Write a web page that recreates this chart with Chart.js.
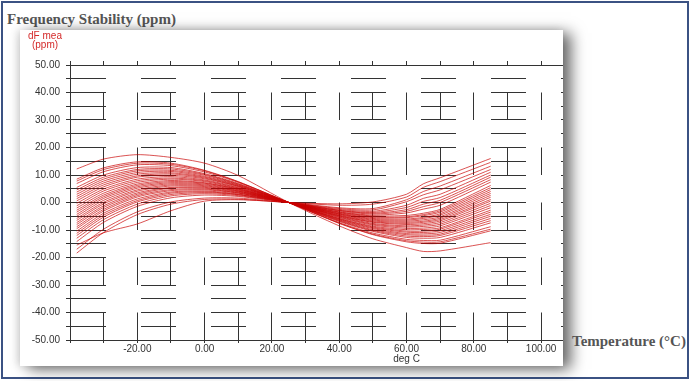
<!DOCTYPE html>
<html>
<head>
<meta charset="utf-8">
<title>Frequency Stability</title>
<script src="https://cdn.jsdelivr.net/npm/chart.js@4.4.1/dist/chart.umd.min.js"></script>
<style>
  body { margin: 0; background: #fff; }
  #page { position: relative; width: 691px; height: 381px; overflow: hidden; }
  #frame { position: absolute; left: 1px; top: 1px; width: 684px; height: 374px; border: 2px solid #3b5283; }
  .caption { position: absolute; font-family: "Liberation Serif", "Times New Roman", serif; font-weight: bold; font-size: 15px; line-height: 15px; color: #555; white-space: nowrap; }
  #ytitle { left: 7px; top: 12px; }
  #xtitle { left: 572px; top: 334px; }
  #panel { position: absolute; left: 20px; top: 30px; width: 543px; height: 336px; background: #fff;
           box-shadow: 8px 3px 14px rgba(0,0,0,0.6), -3px 0 8px rgba(0,0,0,0.12); }
  #panel canvas { display: block; }
</style>
</head>
<body>
<div id="page">
  <div id="frame"></div>
  <div class="caption" id="ytitle">Frequency Stability (ppm)</div>
  <div id="panel"><canvas id="chart" width="543" height="336"></canvas></div>
  <div class="caption" id="xtitle">Temperature (°C)</div>
</div>
<script>
// temperature points (deg C)
const temps = [-38, -30, -20, -10, 0, 10, 25, 40, 50, 60, 65, 70, 85];

// dF per unit (ppm)
const unit01 = [12.2, 15.8, 17.4, 16.4, 14.3, 9.8, 0, -8.5, -13.2, -16.4, -17.8, -17.6, -14.6];
const unit02 = [8.5, 12.6, 14.8, 14.3, 11.7, 7.6, 0, -7.6, -11.7, -14.3, -14.9, -14.8, -10.3];
const unit03 = [7.8, 12.0, 14.3, 13.9, 11.5, 7.5, 0, -7.5, -11.5, -13.9, -14.4, -14.3, -9.7];
const unit04 = [6.9, 11.2, 13.7, 13.4, 11.1, 7.3, 0, -7.3, -11.1, -13.4, -13.8, -13.7, -8.8];
const unit05 = [5.5, 10.0, 12.7, 12.7, 10.5, 6.9, 0, -6.9, -10.5, -12.7, -13.0, -12.7, -7.4];
const unit06 = [4.6, 9.2, 12.0, 12.2, 10.2, 6.7, 0, -6.7, -10.2, -12.2, -12.4, -12.0, -6.6];
const unit07 = [3.8, 8.5, 11.5, 11.7, 9.9, 6.5, 0, -6.5, -9.9, -11.7, -11.9, -11.5, -5.8];
const unit08 = [3.0, 7.8, 10.9, 11.3, 9.5, 6.3, 0, -6.3, -9.5, -11.3, -11.4, -10.9, -5.0];
const unit09 = [2.2, 7.1, 10.3, 10.8, 9.2, 6.1, 0, -6.1, -9.2, -10.8, -10.9, -10.3, -4.3];
const unit10 = [1.4, 6.4, 9.7, 10.4, 8.9, 5.9, 0, -5.9, -8.9, -10.4, -10.4, -9.7, -3.5];
const unit11 = [0.6, 5.7, 9.2, 9.9, 8.6, 5.8, 0, -5.8, -8.6, -9.9, -9.8, -9.2, -2.8];
const unit12 = [-0.3, 4.9, 8.5, 9.4, 8.2, 5.5, 0, -5.5, -8.2, -9.4, -9.3, -8.5, -1.9];
const unit13 = [-1.2, 4.2, 7.9, 8.9, 7.9, 5.3, 0, -5.3, -7.9, -8.9, -8.7, -7.9, -1.1];
const unit14 = [-2.0, 3.4, 7.3, 8.5, 7.6, 5.1, 0, -5.1, -7.6, -8.5, -8.2, -7.3, -0.3];
const unit15 = [-2.8, 2.7, 6.7, 8.0, 7.2, 4.9, 0, -4.9, -7.2, -8.0, -7.7, -6.7, 0.5];
const unit16 = [-3.5, 2.1, 6.2, 7.6, 7.0, 4.8, 0, -4.8, -7.0, -7.6, -7.2, -6.2, 1.1];
const unit17 = [-4.3, 1.5, 5.7, 7.2, 6.7, 4.6, 0, -4.6, -6.7, -7.2, -6.8, -5.7, 1.9];
const unit18 = [-5.0, 0.8, 5.2, 6.8, 6.4, 4.4, 0, -4.4, -6.4, -6.8, -6.3, -5.2, 2.6];
const unit19 = [-5.8, 0.1, 4.6, 6.4, 6.1, 4.2, 0, -4.2, -6.1, -6.4, -5.8, -4.6, 3.3];
const unit20 = [-6.5, -0.5, 4.1, 6.0, 5.8, 4.1, 0, -4.1, -5.8, -6.0, -5.4, -4.1, 4.0];
const unit21 = [-7.3, -1.2, 3.5, 5.5, 5.5, 3.9, 0, -3.9, -5.5, -5.5, -4.8, -3.5, 4.7];
const unit22 = [-8.0, -1.8, 3.0, 5.2, 5.2, 3.7, 0, -3.7, -5.2, -5.2, -4.4, -3.0, 5.4];
const unit23 = [-8.8, -2.5, 2.5, 4.7, 4.9, 3.5, 0, -3.5, -4.9, -4.7, -3.9, -2.5, 6.2];
const unit24 = [-9.5, -3.1, 2.0, 4.3, 4.6, 3.4, 0, -3.4, -4.6, -3.8, -2.4, -1.0, 7.4];
const unit25 = [-10.4, -3.9, 1.3, 3.8, 4.2, 3.1, 0, -3.1, -4.2, -3.2, -1.5, 0.0, 8.3];
const unit26 = [-11.2, -4.6, 0.7, 3.4, 3.9, 2.9, 0, -2.9, -3.9, -2.6, -0.6, 0.8, 9.2];
const unit27 = [-12.0, -5.3, 0.2, 2.9, 3.6, 2.8, 0, -2.8, -3.6, -1.8, 0.4, 1.8, 10.0];
const unit28 = [-13.0, -6.2, -0.6, 2.4, 3.2, 2.5, 0, -2.5, -3.2, -1.0, 1.5, 3.0, 11.0];
const unit29 = [-14.2, -7.2, -1.4, 1.7, 2.7, 2.2, 0, -2.2, -2.7, 0.3, 2.8, 4.6, 12.0];
const unit30 = [-15.5, -11.0, -7.8, -3.0, 0.5, 1.0, 0, -1.9, -2.2, 1.0, 4.0, 6.0, 13.2];
const unit31 = [-17.0, -9.7, -3.4, 0.2, 1.6, 1.6, 0, -1.0, -0.6, 2.0, 5.5, 7.6, 14.6];
const unit32 = [-18.4, -10.9, -4.4, -0.6, 1.1, 1.2, 0, -0.5, 0.2, 3.0, 6.8, 9.0, 16.0];

const units = [unit01, unit02, unit03, unit04, unit05, unit06, unit07, unit08,
  unit09, unit10, unit11, unit12, unit13, unit14, unit15, unit16,
  unit17, unit18, unit19, unit20, unit21, unit22, unit23, unit24,
  unit25, unit26, unit27, unit28, unit29, unit30, unit31, unit32];

// axes
const xTicks = [-40, -30, -20, -10, 0, 10, 20, 30, 40, 50, 60, 70, 80, 90, 100];
const xTickLabels = ["", "", "-20.00", "", "0.00", "", "20.00", "", "40.00", "",
  ["60.00", "deg C"], "", "80.00", "", "100.00"];
const yTicks = [-50, -45, -40, -35, -30, -25, -20, -15, -10, -5, 0, 5, 10, 15, 20, 25, 30, 35, 40, 45, 50];
const yTickLabels = ["-50.00", "", "-40.00", "", "-30.00", "", "-20.00", "", "-10.00", "", "0.00", "",
  "10.00", "", "20.00", "", "30.00", "", "40.00", "", "50.00"];
const yUnitLines = ["dF mea", "(ppm)"];

const gridColor = "#333";
const lineColor = "rgba(200, 0, 0, 0.68)";
const tickFont = { family: '"Liberation Sans", Arial, sans-serif', size: 10, lineHeight: 1.0 };

Chart.defaults.font.family = '"Liberation Sans", Arial, sans-serif';

const unitLabel = {
  id: "unitLabel",
  afterDraw(chart) {
    const ctx = chart.ctx;
    ctx.save();
    ctx.fillStyle = "#d42a2a";
    ctx.font = '10px "Liberation Sans", Arial, sans-serif';
    ctx.textAlign = "center";
    yUnitLines.forEach((t, i) => ctx.fillText(t, 25, 9 + i * 9));
    ctx.restore();
  },
};

function setXTicks(scale) {
  scale.ticks = xTicks.map((v) => ({ value: v }));
}

new Chart(document.getElementById("chart"), {
  type: "line",
  data: {
    datasets: units.map((vals) => ({
      data: vals.map((v, i) => ({ x: temps[i], y: v })),
      borderColor: lineColor,
      borderWidth: 1,
      pointRadius: 0,
      tension: 0.25,
      fill: false,
    })),
  },
  options: {
    responsive: false,
    animation: false,
    events: [],
    layout: { padding: 0 },
    plugins: { legend: { display: false }, tooltip: { enabled: false } },
    scales: {
      x: {
        type: "linear",
        position: "bottom",
        min: -40,
        max: 106.5,
        afterBuildTicks: setXTicks,
        afterFit: (s) => { s.height = 26; s.paddingLeft = 0; s.paddingRight = 0; },
        grid: { color: gridColor, lineWidth: 1, tickLength: 3 },
        border: { color: gridColor, width: 1, dash: [27.5, 27.5], dashOffset: 27.5 },
        ticks: {
          autoSkip: false,
          maxRotation: 0,
          padding: 1,
          color: "#333",
          font: tickFont,
          callback: (v, i) => xTickLabels[i],
        },
      },
      x2: {
        type: "linear",
        position: "top",
        min: -40,
        max: 106.5,
        afterBuildTicks: setXTicks,
        afterFit: (s) => { s.height = 35; s.paddingLeft = 0; s.paddingRight = 0; },
        grid: { drawOnChartArea: false, color: gridColor, tickLength: 4 },
        border: { color: gridColor, width: 1 },
        ticks: { display: false },
      },
      y: {
        min: -50,
        max: 50,
        afterBuildTicks: (s) => { s.ticks = yTicks.map((v) => ({ value: v })); },
        afterFit: (s) => { s.width = 50; s.paddingTop = 0; s.paddingBottom = 0; },
        grid: { color: gridColor, lineWidth: 1, tickLength: 4 },
        border: { color: gridColor, width: 1, dash: [35, 35], dashOffset: 0 },
        ticks: {
          padding: 6,
          color: "#333",
          font: tickFont,
          callback: (v, i) => yTickLabels[i],
        },
      },
    },
  },
  plugins: [unitLabel],
});
</script>
</body>
</html>
